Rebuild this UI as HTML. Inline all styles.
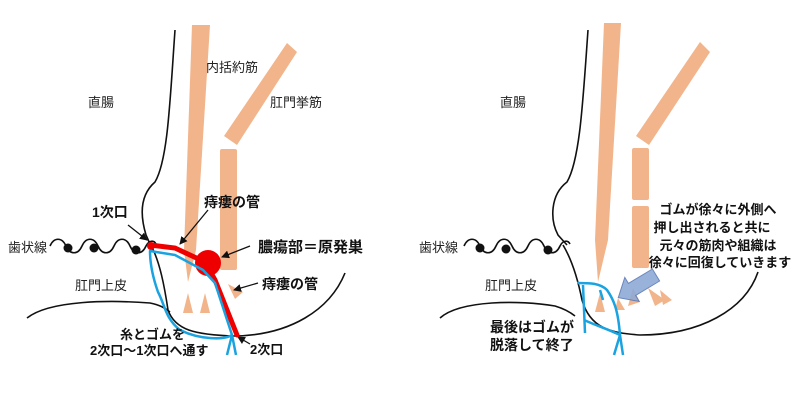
<!DOCTYPE html>
<html><head><meta charset="utf-8"><style>
html,body{margin:0;padding:0;background:#fff;}
svg{display:block;}
text{font-family:"Liberation Sans","Noto Sans CJK JP",sans-serif;fill:#222;}
.b{font-weight:bold;font-size:14px;fill:#111;}
.n{font-size:13px;}
</style></head><body>
<svg width="800" height="400" viewBox="0 0 800 400" xmlns="http://www.w3.org/2000/svg">
<defs>
<marker id="ah" markerWidth="8" markerHeight="8" refX="7" refY="4" orient="auto" markerUnits="userSpaceOnUse"><path d="M0,0 L8,4 L0,8 z" fill="#111"/></marker>
</defs>
<!-- LEFT PANEL -->
<g fill="#f2b48a">
<path d="M192,25 L210,25 L196,250 L188,282 L184,250 Z"/>
<path d="M287,43 L297,52 L237,145 L224,136 Z"/>
<rect x="220" y="149" width="17" height="121" rx="2"/>
<path d="M183,313 L188,293 L193,313 Z"/>
<path d="M200,313 L205,293 L210,313 Z"/>
<path d="M228,284 L243,292 L235,299 Z"/>
</g>
<g fill="none" stroke="#111" stroke-width="1.6">
<path d="M175,30 C170,100 168,160 155,182 C140,195 140,215 146,235 L150,244"/>
<path d="M150,244 C160,260 165,290 168,310 C175,330 195,335 235,336 C290,335 330,310 345,273"/>
<path d="M27,318 C50,300 110,300 150,303 C160,305 165,308 170,312"/>
<path d="M50,246 c4,-9 12,-9 16,0 s12,9 16,0 s12,-9 16,0 s12,9 16,0 s12,-9 16,0 s12,9 16,0 c3,-6 8,-6 10,-2"/>
</g>
<g fill="#111"><circle cx="68" cy="248" r="4.5"/><circle cx="94" cy="248" r="4.5"/><circle cx="136" cy="250" r="4.5"/></g>
<g fill="none" stroke="#111" stroke-width="1.3" marker-end="url(#ah)">
<line x1="128" y1="225" x2="147" y2="240"/>
<line x1="208" y1="210" x2="180" y2="244"/>
<line x1="250" y1="246" x2="222" y2="257"/>
<line x1="258" y1="283" x2="234" y2="290"/>
<line x1="250" y1="344" x2="238" y2="337"/>
</g>
<g stroke="#e00" stroke-width="5" fill="none" stroke-linecap="round">
<path d="M150,245 L175,248 L205,262 L215,280 L237,335"/>
</g>
<circle cx="208" cy="263" r="13" fill="#e00"/>
<circle cx="151" cy="246" r="4" fill="#e00"/>
<g stroke="#1aa3e0" stroke-width="2.5" fill="none" stroke-linejoin="round">
<path d="M150,251 L175,255 L203,270 L215,283 L232,335 C225,340 200,340 180,330 C165,318 165,305 158,292 C152,275 150,260 150,251 Z"/>
<path d="M232,335 L227,355 M232,335 L236,355"/>
</g>
<text x="206" y="72" class="n">内括約筋</text>
<text x="270" y="107" class="n">肛門挙筋</text>
<text x="88" y="107" class="n">直腸</text>
<text x="92" y="217" class="b">1次口</text>
<text x="204" y="207" class="b">痔瘻の管</text>
<text x="258" y="252" class="b" style="font-size:15px">膿瘍部＝原発巣</text>
<text x="262" y="289" class="b">痔瘻の管</text>
<text x="8" y="252" class="n">歯状線</text>
<text x="75" y="290" class="n">肛門上皮</text>
<text x="120" y="339" class="b" style="font-size:13px">糸とゴムを</text>
<text x="90" y="355" class="b" style="font-size:13px">2次口～1次口へ通す</text>
<text x="250" y="354" class="b" style="font-size:13px">2次口</text>

<!-- RIGHT PANEL -->
<g fill="#f2b48a">
<path d="M604,23 L621,23 L608,240 L598,282 L595,240 Z"/>
<path d="M700,42 L710,52 L649,145 L636,136 Z"/>
<rect x="632" y="148" width="17" height="52" rx="2"/>
<rect x="632" y="206" width="17" height="62" rx="2"/>
<path d="M595,312 L600,293 L605,312 Z"/>
<path d="M615,310 L618,298 L625,310 Z"/>
<path d="M633,288 L640,302 L628,306 Z"/>
<path d="M648,288 L665,300 L655,306 Z"/>
<path d="M660,290 L672,300 L663,305 Z"/>
</g>
<g fill="none" stroke="#111" stroke-width="1.6">
<path d="M588,30 C583,100 580,160 567,182 C550,195 550,220 558,235 L567,245"/>
<path d="M563,245 C572,260 578,280 582,300 C590,328 610,333 640,335 C700,335 745,310 758,272"/>
<path d="M440,318 C460,300 520,300 555,306 C565,309 570,312 575,316"/>
<path d="M464,246 c4,-9 12,-9 16,0 s12,9 16,0 s12,-9 16,0 s12,9 16,0 s12,-9 16,0 s12,9 16,0 c3,-6 8,-6 10,-2"/>
</g>
<g fill="#111"><circle cx="480" cy="248" r="4.5"/><circle cx="506" cy="249" r="4.5"/><circle cx="548" cy="250" r="4.5"/></g>
<g stroke="#1aa3e0" stroke-width="2.5" fill="none" stroke-linejoin="round">
<path d="M577,283 C590,283 600,283 607,290 C614,300 618,310 620,335 C610,330 595,325 584,320"/>
<path d="M583,285 L585,333"/>
<path d="M620,335 L614,355 M620,335 L623,355"/>
<path d="M600,290 L603,300"/>
</g>
<path transform="translate(656,275) rotate(149)" d="M0,-7 L28,-7 L28,-14 L44,0 L28,14 L28,7 L0,7 Z" fill="#8faad6" stroke="#5a7ab8" stroke-width="1" opacity="0.9"/>
<text x="500" y="107" class="n">直腸</text>
<text x="419" y="252" class="n">歯状線</text>
<text x="485" y="290" class="n">肛門上皮</text>
<text x="718" y="214" class="b" text-anchor="middle" style="font-size:13px">ゴムが徐々に外側へ</text>
<text x="712" y="232" class="b" text-anchor="middle" style="font-size:13px">押し出されると共に</text>
<text x="718" y="250" class="b" text-anchor="middle" style="font-size:13px">元々の筋肉や組織は</text>
<text x="720" y="267" class="b" text-anchor="middle" style="font-size:13px">徐々に回復していきます</text>
<text x="490" y="332" class="b" style="font-size:14px">最後はゴムが</text>
<text x="490" y="350" class="b" style="font-size:14px">脱落して終了</text>
</svg>
</body></html>
